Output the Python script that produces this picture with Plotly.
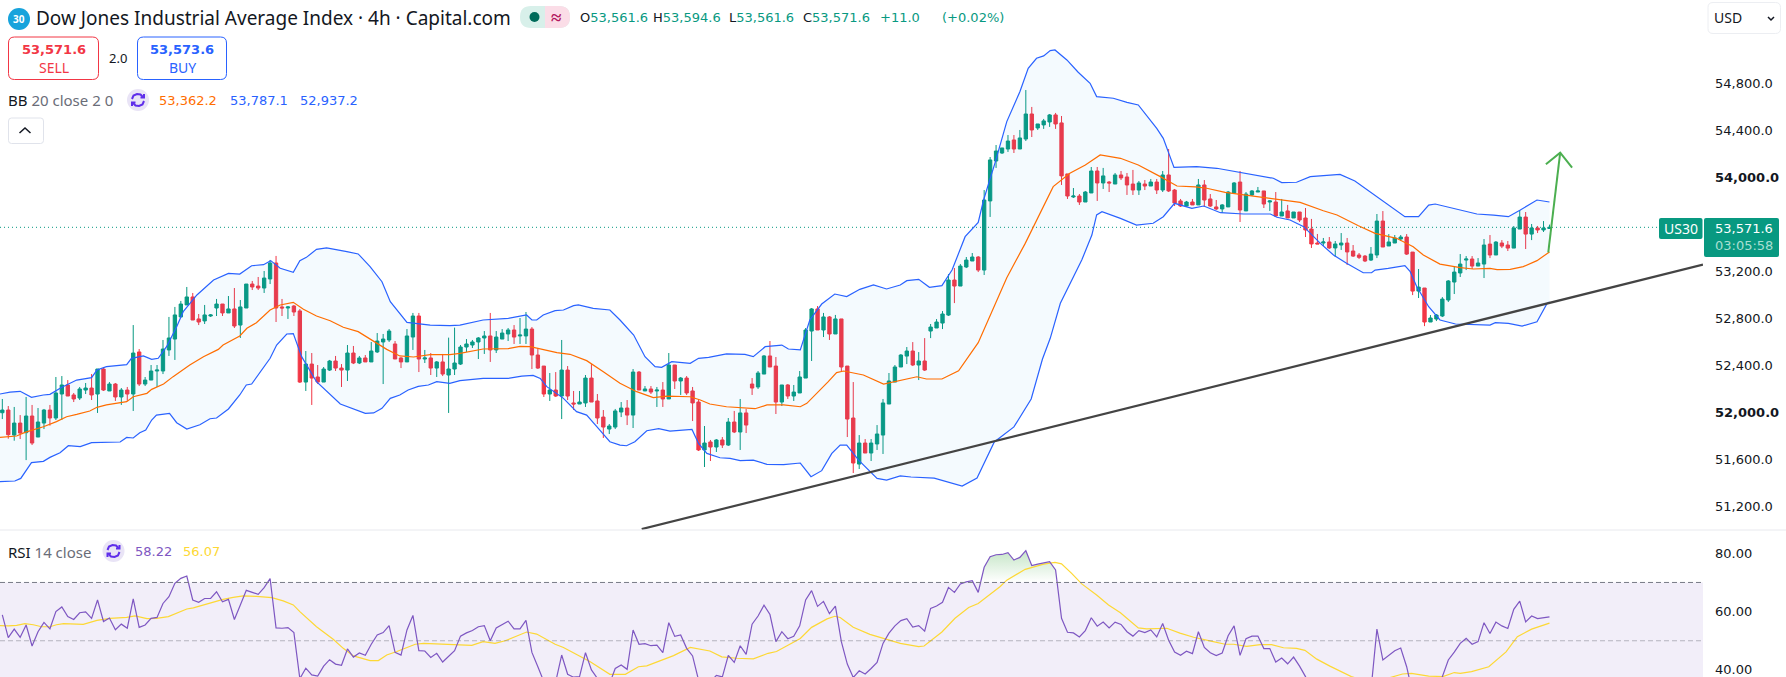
"""Dow Jones 4h chart with Bollinger Bands and RSI pane, rebuilt from a screenshot."""

import plotly.graph_objects as go

opens = [
    51994, 52017, 51804, 51906, 51824, 51966, 51787, 51906, 52017, 51949,
    52153, 52230, 52145, 52119, 52187, 52204, 52153, 52366, 52179, 52238,
    52128, 52187, 52153, 52511, 52238, 52272, 52349, 52349, 52528, 52621,
    52809, 52911, 52979, 52792, 52775, 52817, 52885, 52919, 52843, 52877,
    52740, 52885, 53089, 53072, 53055, 53132, 53268, 52894, 52885, 52902,
    52860, 52255, 52408, 52298, 52255, 52357, 52434, 52374, 52357, 52502,
    52417, 52460, 52426, 52511, 52596, 52613, 52579, 52460, 52426, 52638,
    52817, 52451, 52460, 52374, 52426, 52315, 52366, 52408, 52553, 52570,
    52596, 52630, 52647, 52528, 52621, 52664, 52698, 52647, 52647, 52706,
    52485, 52391, 52153, 52187, 52136, 52357, 52077, 52068, 52077, 52289,
    52094, 51957, 51855, 51872, 52000, 52034, 51974, 52340, 52179, 52196,
    52179, 52187, 52111, 52400, 52264, 52289, 52179, 52085, 51677, 51745,
    51702, 51762, 51719, 51915, 51830, 51992, 52238, 52213, 52323, 52477,
    52391, 52085, 52230, 52136, 52162, 52289, 52689, 52877, 52698, 52809,
    52664, 52792, 52391, 51949, 51557, 51736, 51651, 51728, 51804, 52068,
    52255, 52383, 52476, 52519, 52400, 52434, 52689, 52715, 52757, 52825,
    53123, 53072, 53234, 53285, 53319, 53208, 53796, 54136, 54204, 54238,
    54315, 54238, 54323, 54536, 54417, 54443, 54468, 54528, 54460, 54026,
    53830, 53838, 53787, 53864, 54051, 53949, 53957, 53940, 54017, 54000,
    53940, 53889, 53940, 53923, 53957, 53889, 54017, 53889, 53796, 53753,
    53787, 53762, 53932, 53813, 53745, 53728, 53745, 53864, 53957, 53711,
    53847, 53872, 53881, 53787, 53787, 53668, 53711, 53651, 53702, 53651,
    53557, 53438, 53438, 53447, 53396, 53421, 53438, 53370, 53336, 53327,
    53293, 53336, 53625, 53413, 53438, 53472, 53489, 53361, 53029, 53055,
    52766, 52791, 52817, 52953, 53106, 53183, 53293, 53302, 53242, 53259,
    53429, 53336, 53438, 53421, 53395, 53557, 53659, 53514, 53566, 53549,
    53561.6,
]
highs = [
    52111, 52051, 52043, 51974, 52128, 52060, 52034, 52026, 52060, 52298,
    52306, 52272, 52162, 52213, 52247, 52323, 52366, 52383, 52255, 52247,
    52204, 52213, 52740, 52536, 52298, 52400, 52400, 52613, 52809, 52894,
    52945, 53064, 53013, 52834, 52911, 52834, 52962, 52919, 52987, 53055,
    52953, 53089, 53115, 53149, 53200, 53294, 53328, 52962, 52902, 52911,
    52877, 52519, 52502, 52400, 52383, 52443, 52477, 52408, 52570, 52562,
    52477, 52485, 52596, 52672, 52664, 52706, 52604, 52468, 52706, 52843,
    52843, 52528, 52502, 52434, 52494, 52633, 52718, 52570, 52621, 52613,
    52638, 52689, 52843, 52689, 52706, 52715, 52740, 52800, 52851, 52723,
    52542, 52391, 52332, 52340, 52613, 52391, 52179, 52179, 52315, 52408,
    52153, 52017, 51898, 52026, 52085, 52102, 52366, 52349, 52221, 52221,
    52213, 52255, 52502, 52400, 52298, 52306, 52213, 52111, 51881, 51762,
    51770, 51787, 51949, 52009, 52111, 52026, 52289, 52349, 52485, 52604,
    52468, 52230, 52238, 52230, 52349, 52715, 52885, 52902, 52843, 52817,
    52826, 52792, 52391, 52255, 51804, 51770, 51770, 51889, 52111, 52332,
    52400, 52493, 52553, 52595, 52510, 52629, 52749, 52791, 52859, 53174,
    53225, 53259, 53319, 53353, 53327, 53889, 54170, 54272, 54247, 54357,
    54357, 54400, 54740, 54596, 54451, 54494, 54536, 54545, 54519, 54026,
    53906, 53855, 53881, 54085, 54085, 54077, 53966, 54034, 54051, 54034,
    54060, 53966, 53974, 53983, 53983, 54051, 54238, 53898, 53813, 53796,
    53813, 53983, 53974, 53855, 53804, 53770, 53881, 53957, 54051, 53872,
    53889, 53915, 53881, 53804, 53872, 53813, 53762, 53702, 53702, 53736,
    53643, 53515, 53481, 53489, 53455, 53523, 53481, 53421, 53353, 53336,
    53404, 53685, 53710, 53514, 53506, 53506, 53514, 53361, 53217, 53055,
    52825, 52834, 52978, 53123, 53236, 53344, 53327, 53327, 53310, 53472,
    53506, 53455, 53463, 53455, 53583, 53719, 53702, 53600, 53583, 53625,
    53594.6,
]
lows = [
    51940, 51773, 51756, 51770, 51591, 51719, 51787, 51855, 51884, 51932,
    51932, 52136, 52085, 52102, 52153, 52102, 51992, 52179, 52179, 52094,
    52060, 52094, 52009, 52221, 52221, 52272, 52213, 52323, 52477, 52443,
    52809, 52911, 52783, 52740, 52749, 52809, 52817, 52817, 52843, 52715,
    52630, 52885, 53038, 53038, 53013, 53089, 52766, 52817, 52792, 52817,
    52247, 52179, 52060, 52238, 52255, 52349, 52349, 52213, 52264, 52408,
    52408, 52426, 52426, 52502, 52238, 52596, 52451, 52374, 52426, 52528,
    52340, 52417, 52315, 52298, 52306, 51992, 52315, 52400, 52511, 52545,
    52451, 52494, 52426, 52502, 52621, 52604, 52579, 52579, 52579, 52366,
    52366, 52128, 52094, 52128, 51940, 52102, 52017, 52068, 52043, 52085,
    51898, 51779, 51813, 51855, 51957, 51889, 51864, 52187, 52179, 52153,
    52043, 52043, 52111, 52196, 52145, 52145, 51923, 51668, 51532, 51583,
    51660, 51694, 51711, 51821, 51677, 51821, 52145, 52196, 52323, 52383,
    51983, 52051, 52111, 52094, 52162, 52289, 52434, 52698, 52638, 52613,
    52664, 52349, 51787, 51481, 51515, 51651, 51583, 51677, 51643, 52068,
    52255, 52383, 52408, 52391, 52272, 52349, 52629, 52715, 52706, 52817,
    52927, 53072, 53225, 53285, 53191, 53166, 53660, 54077, 54196, 54213,
    54204, 54238, 54306, 54340, 54400, 54409, 54426, 54409, 53932, 53813,
    53821, 53762, 53787, 53864, 53796, 53898, 53872, 53940, 53974, 53847,
    53847, 53847, 53889, 53923, 53855, 53872, 53872, 53753, 53745, 53745,
    53762, 53762, 53745, 53745, 53719, 53694, 53745, 53864, 53617, 53711,
    53838, 53872, 53736, 53711, 53668, 53668, 53651, 53651, 53617, 53489,
    53396, 53430, 53413, 53387, 53319, 53379, 53251, 53319, 53302, 53276,
    53285, 53310, 53404, 53413, 53438, 53455, 53336, 52995, 52970, 52731,
    52766, 52774, 52808, 52936, 53004, 53149, 53208, 53217, 53242, 53140,
    53310, 53336, 53395, 53370, 53395, 53557, 53387, 53463, 53523, 53532,
    53561.6,
]
closes = [
    52017, 51807, 51906, 51821, 51966, 51736, 51915, 52017, 51949, 52162,
    52230, 52136, 52111, 52196, 52204, 52145, 52366, 52187, 52238, 52128,
    52187, 52153, 52502, 52238, 52272, 52349, 52357, 52536, 52630, 52826,
    52919, 52979, 52783, 52766, 52826, 52826, 52919, 52843, 52877, 52732,
    52894, 53089, 53064, 53055, 53140, 53268, 52885, 52885, 52894, 52851,
    52255, 52408, 52289, 52255, 52366, 52434, 52374, 52357, 52502, 52417,
    52460, 52426, 52519, 52604, 52621, 52689, 52451, 52426, 52647, 52817,
    52451, 52460, 52374, 52426, 52323, 52366, 52417, 52553, 52579, 52596,
    52630, 52647, 52528, 52638, 52672, 52698, 52638, 52655, 52706, 52485,
    52374, 52153, 52187, 52136, 52357, 52136, 52068, 52085, 52289, 52085,
    51949, 51872, 51881, 52009, 52034, 51974, 52340, 52187, 52196, 52170,
    52187, 52111, 52400, 52264, 52289, 52162, 52077, 51677, 51736, 51702,
    51762, 51719, 51915, 51830, 51992, 51889, 52204, 52332, 52477, 52383,
    52085, 52230, 52136, 52170, 52298, 52698, 52877, 52698, 52809, 52664,
    52792, 52383, 51940, 51566, 51736, 51651, 51736, 51813, 52077, 52264,
    52383, 52485, 52519, 52400, 52434, 52357, 52723, 52766, 52834, 53123,
    53072, 53242, 53293, 53319, 53208, 53804, 54145, 54221, 54247, 54306,
    54238, 54332, 54536, 54400, 54451, 54477, 54528, 54451, 54009, 53838,
    53838, 53787, 53872, 54051, 53949, 54009, 53949, 54017, 53992, 53932,
    53889, 53949, 53923, 53957, 53889, 54017, 53881, 53779, 53753, 53787,
    53762, 53932, 53804, 53753, 53728, 53762, 53872, 53949, 53719, 53855,
    53881, 53881, 53770, 53796, 53668, 53702, 53651, 53702, 53634, 53549,
    53430, 53430, 53447, 53396, 53430, 53438, 53362, 53327, 53316, 53285,
    53344, 53625, 53404, 53447, 53480, 53489, 53344, 53029, 53063, 52766,
    52800, 52825, 52961, 53115, 53191, 53259, 53302, 53242, 53268, 53421,
    53336, 53446, 53412, 53395, 53566, 53659, 53514, 53566, 53549, 53566,
    53571.6,
]

# Bollinger bands: vertices as (bar number, price)
upper_bars = [
    -0.4, 1.3, 3.0, 4.9, 6.9, 8.0, 10.0, 12.5, 15.0, 15.9, 17.5, 20.9, 21.7, 23.7, 25.1, 26.2,
    27.6, 29.3, 30.4, 32.7, 35.5, 38.0, 39.9, 41.9, 43.9, 45.1, 46.7, 48.9, 50.0, 51.1, 52.8,
    54.5, 57.9, 59.8, 61.8, 63.8, 65.2, 68.0, 71.9, 75.2, 76.9, 80.8, 85.0, 88.1, 89.0, 89.8,
    90.9, 92.9, 94.3, 96.0, 96.8, 99.3, 102.1, 103.8, 106.1, 108.0, 109.7, 110.8, 112.5, 115.6,
    117.0, 118.7, 121.7, 124.8, 126.2, 128.2, 131.0, 132.1, 134.1, 135.7, 137.7, 139.9, 141.9,
    144.1, 146.4, 148.6, 150.9, 152.0, 154.0, 155.8, 157.9, 159.6, 161.8, 164.0, 164.9, 166.8,
    168.8, 171.0, 172.4, 173.8, 175.0, 176.1, 176.9, 178.9, 180.8, 182.8, 183.9, 186.7, 189.0,
    190.9, 194.0, 195.1, 196.9, 200.7, 204.1, 213.6, 215.0, 217.5, 219.8, 224.8, 227.3, 231.0,
    235.7, 238.0, 239.7, 240.8, 245.0, 247.8, 250.6, 253.1, 255.1, 257.9, 260.0,
]
upper_band = [
    52153, 52170, 52176, 52125, 52145, 52150, 52210, 52272, 52292, 52357, 52386, 52403, 52457,
    52477, 52448, 52457, 52556, 52726, 52854, 52996, 53123, 53180, 53174, 53245, 53254, 53288,
    53223, 53189, 53288, 53316, 53384, 53396, 53365, 53345, 53237, 53109, 52939, 52763, 52740,
    52735, 52740, 52783, 52797, 52826, 52783, 52783, 52826, 52862, 52868, 52905, 52911, 52882,
    52868, 52783, 52655, 52471, 52386, 52380, 52428, 52414, 52457, 52465, 52494, 52491, 52471,
    52556, 52570, 52536, 52528, 52783, 52919, 53004, 52982, 53044, 53081, 53047, 53081, 53118,
    53129, 53061, 53075, 53208, 53492, 53614, 53804, 54116, 54471, 54726, 54925, 55010, 55030,
    55075, 55081, 54996, 54891, 54797, 54684, 54670, 54635, 54613, 54414, 54329, 54082, 54088,
    54074, 53989, 53952, 53955, 54003, 54022, 53966, 53832, 53662, 53662, 53761, 53770, 53719,
    53685, 53676, 53662, 53719, 53804, 53787.1,
]
mid_bars = [
    -0.4, 2.4, 3.8, 5.2, 6.9, 9.1, 10.8, 12.5, 14.7, 15.9, 17.5, 20.9, 22.0, 24.3, 25.1, 27.1,
    28.7, 31.5, 33.8, 36.3, 37.1, 39.9, 41.1, 42.7, 45.0, 46.7, 48.9, 50.6, 52.8, 55.1, 57.3,
    59.8, 62.4, 64.6, 66.8, 69.1, 71.9, 75.2, 76.9, 80.8, 85.0, 87.0, 88.7, 90.9, 93.2, 95.4,
    98.2, 101.0, 103.8, 106.6, 109.4, 111.7, 115.6, 117.3, 118.9, 121.7, 124.0, 126.5, 128.5,
    131.3, 134.1, 135.2, 138.8, 140.2, 141.4, 144.7, 148.1, 150.9, 151.4, 153.7, 155.3, 157.9,
    160.7, 164.0, 168.8, 171.9, 176.6, 179.4, 182.0, 184.5, 187.9, 190.9, 194.6, 197.4, 200.5,
    202.4, 205.5, 210.3, 214.7, 218.1, 222.0, 224.3, 227.9, 230.7, 234.3, 237.1, 238.8, 241.6,
    245.0, 247.2, 250.0, 251.2, 253.4, 255.6, 257.9, 260.0,
]
mid_band = [
    51784, 51796, 51827, 51847, 51875, 51918, 51960, 51980, 52009, 52040, 52060, 52088, 52130,
    52159, 52193, 52238, 52301, 52400, 52471, 52533, 52570, 52647, 52712, 52760, 52868, 52911,
    52933, 52874, 52817, 52777, 52721, 52684, 52599, 52533, 52477, 52468, 52488, 52488, 52499,
    52536, 52539, 52559, 52556, 52533, 52505, 52491, 52437, 52343, 52244, 52173, 52122, 52136,
    52130, 52102, 52068, 52045, 52034, 52028, 52060, 52060, 52045, 52074, 52258, 52335, 52349,
    52315, 52238, 52267, 52278, 52300, 52281, 52281, 52351, 52590, 53143, 53435, 53918, 54031,
    54102, 54187, 54159, 54102, 54003, 53923, 53915, 53904, 53869, 53838, 53804, 53784, 53713,
    53677, 53585, 53520, 53478, 53407, 53336, 53259, 53228, 53217, 53222, 53211, 53214, 53237,
    53288, 53362.2,
]
lower_bars = [
    -0.4, 2.1, 3.1, 4.4, 4.9, 6.9, 8.0, 9.7, 11.1, 13.1, 15.0, 19.8, 20.9, 22.0, 23.1, 24.1,
    25.1, 25.9, 28.1, 29.3, 31.0, 33.2, 34.9, 36.0, 38.0, 39.9, 41.0, 41.9, 45.0, 46.1, 47.8,
    48.9, 50.3, 52.8, 56.8, 61.0, 62.4, 63.8, 65.2, 66.8, 68.2, 69.9, 71.6, 73.0, 75.2, 76.9,
    80.8, 85.0, 87.3, 89.2, 90.4, 91.5, 94.3, 96.5, 98.2, 99.9, 102.1, 103.8, 104.9, 106.3,
    108.3, 110.3, 112.2, 115.9, 117.0, 118.4, 120.6, 122.3, 124.0, 126.2, 128.5, 131.3, 134.1,
    135.9, 137.7, 139.4, 140.8, 141.9, 143.9, 147.0, 148.6, 150.9, 152.7, 156.6, 159.4, 161.3,
    163.8, 166.7, 170.0, 172.9, 174.8, 176.1, 177.8, 181.4, 183.1, 183.9, 184.8, 187.9, 190.6,
    193.4, 195.1, 197.0, 199.9, 201.9, 204.7, 208.6, 213.1, 214.2, 216.4, 218.7, 221.5, 223.7,
    225.9, 228.7, 230.1, 230.7, 232.9, 235.7, 236.6, 237.7, 239.7, 241.6, 244.2, 250.0, 250.9,
    253.1, 255.4, 257.9, 259.6, 260.0,
]
lower_band = [
    51407, 51413, 51435, 51540, 51569, 51580, 51614, 51654, 51713, 51705, 51739, 51745, 51784,
    51779, 51824, 51847, 51932, 51974, 51989, 51909, 51855, 51892, 51943, 51949, 52026, 52145,
    52230, 52238, 52457, 52570, 52664, 52667, 52471, 52258, 52068, 51989, 51992, 52031, 52116,
    52145, 52187, 52218, 52230, 52258, 52244, 52267, 52286, 52286, 52306, 52312, 52286, 52216,
    52116, 52003, 51974, 51875, 51747, 51719, 51713, 51747, 51841, 51858, 51838, 51852, 51733,
    51648, 51611, 51606, 51586, 51591, 51555, 51552, 51566, 51450, 51501, 51648, 51719, 51719,
    51591, 51435, 51421, 51456, 51447, 51438, 51396, 51370, 51438, 51745, 51873, 52111, 52451,
    52627, 52925, 53293, 53506, 53677, 53705, 53648, 53591, 53606, 53662, 53776, 53733, 53753,
    53696, 53685, 53685, 53657, 53634, 53577, 53435, 53336, 53265, 53185, 53185, 53208, 53222,
    53245, 53194, 53066, 52896, 52783, 52749, 52740, 52760, 52754, 52731, 52768, 52924, 52937.2,
]

# RSI per bar; values under the pane's lower edge are hidden in the source and guessed
rsi_values = [
    58.9, 51.1, 54.0, 51.2, 55.4, 48.2, 53.1, 56.3, 54.1, 60.0,
    61.6, 58.3, 57.3, 59.6, 59.9, 57.7, 64.0, 56.6, 57.8, 53.8,
    55.7, 54.3, 64.4, 54.6, 55.4, 57.7, 58.0, 62.8, 65.1, 69.7,
    71.4, 72.2, 64.0, 63.2, 64.5, 64.5, 66.8, 63.4, 64.2, 57.3,
    62.3, 67.3, 66.6, 65.9, 68.2, 71.3, 54.4, 54.3, 54.5, 52.8,
    37.0, 40.6, 38.3, 37.9, 41.3, 43.5, 42.0, 41.6, 47.2, 44.4,
    45.8, 45.0, 48.8, 52.0, 52.8, 55.2, 46.0, 45.1, 53.7, 58.7,
    46.6, 46.5, 44.3, 45.7, 42.7, 44.8, 46.6, 51.6, 52.7, 53.5,
    54.8, 55.2, 50.0, 54.4, 55.7, 56.7, 54.1, 54.1, 57.0, 46.0,
    41.1, 36.0, 36.5, 36.0, 45.1, 38.5, 37.5, 37.7, 45.9, 40.0,
    37.1, 35.5, 35.0, 40.5, 41.7, 40.2, 53.7, 48.8, 49.0, 48.3,
    48.5, 45.9, 56.2, 51.5, 52.0, 47.4, 44.8, 36.5, 35.4, 36.0,
    38.1, 37.6, 45.0, 42.6, 48.3, 45.3, 55.7, 58.5, 62.2, 59.0,
    49.7, 53.1, 50.7, 51.5, 55.1, 64.0, 67.2, 61.8, 63.5, 59.3,
    61.9, 49.7, 42.0, 37.4, 39.7, 38.6, 40.5, 42.6, 49.1, 52.6,
    55.1, 56.9, 57.6, 54.7, 55.2, 53.3, 61.1, 61.9, 63.2, 68.3,
    66.6, 69.5, 70.2, 70.6, 66.6, 75.2, 78.8, 79.5, 79.6, 80.2,
    77.7, 78.6, 80.9, 75.8, 76.3, 76.6, 77.1, 74.3, 57.7, 52.9,
    52.7, 51.3, 53.5, 57.9, 55.0, 56.4, 54.4, 56.4, 55.6, 53.1,
    51.6, 53.5, 52.8, 53.7, 51.3, 55.9, 50.2, 46.1, 45.0, 46.4,
    45.6, 53.1, 47.7, 45.9, 44.9, 45.8, 51.7, 55.1, 45.0, 50.7,
    51.6, 51.6, 47.3, 47.3, 42.7, 44.1, 42.1, 44.4, 41.3, 37.7,
    33.0, 33.5, 34.5, 33.5, 34.5, 35.0, 33.5, 33.0, 32.5, 32.0,
    33.0, 54.0, 43.4, 44.9, 46.6, 47.5, 41.1, 32.0, 33.5, 29.0,
    30.0, 32.0, 37.7, 43.4, 46.1, 49.1, 50.8, 48.8, 49.7, 56.2,
    52.5, 56.4, 55.1, 54.2, 60.8, 63.6, 56.5, 58.5, 57.6, 57.9,
    58.22,
]
rsi_ma_bars = [
    -0.4, 1.0, 2.4, 3.8, 5.2, 6.6, 8.0, 9.1, 10.3, 13.6, 15.9, 18.1, 20.9, 22.3, 24.3, 25.9,
    27.9, 29.3, 31.0, 32.1, 35.5, 37.1, 38.8, 40.5, 42.7, 45.3, 47.2, 48.9, 50.0, 52.8, 55.6,
    57.3, 59.0, 61.8, 63.2, 64.6, 66.3, 67.7, 69.4, 70.8, 75.2, 78.9, 80.8, 82.8, 84.5, 86.2,
    88.1, 89.8, 92.9, 94.3, 97.1, 98.8, 102.1, 104.7, 106.9, 108.3, 112.8, 115.6, 118.9, 120.9,
    123.4, 126.2, 128.7, 130.1, 134.1, 136.0, 138.6, 139.9, 140.8, 143.0, 145.8, 148.1, 150.9,
    154.0, 154.9, 157.9, 160.1, 162.4, 164.0, 167.7, 168.8, 171.9, 175.0, 176.9, 178.0, 179.7,
    181.4, 183.9, 185.9, 187.9, 190.9, 192.3, 195.7, 197.9, 200.2, 203.5, 205.5, 206.9, 209.1,
    211.4, 213.3, 215.3, 217.5, 218.9, 220.9, 223.1, 226.7, 230.2, 233.9, 235.3, 236.8, 239.7,
    242.1, 244.0, 245.0, 246.9, 249.8, 252.7, 254.6, 257.0, 260.0,
]
rsi_ma = [
    55.2, 55.1, 55.3, 55.9, 55.5, 54.8, 54.8, 55.5, 55.9, 55.6, 57.0, 57.7, 58.0, 58.5, 57.6, 57.7,
    58.3, 59.4, 60.9, 61.3, 63.4, 64.2, 64.9, 65.4, 65.2, 64.8, 63.7, 62.3, 60.0, 54.8, 50.5,
    47.4, 44.8, 43.2, 43.2, 45.1, 46.3, 47.4, 48.8, 49.1, 48.8, 48.4, 49.7, 49.1, 50.0, 51.4,
    53.0, 52.3, 48.8, 47.7, 44.5, 42.8, 38.5, 38.5, 41.1, 41.4, 44.9, 47.7, 46.5, 44.5,
    44.0, 43.8, 45.7, 46.3, 50.8, 54.6, 57.5, 58.4, 58.0, 54.6, 52.2, 50.9, 49.1,
    48.0, 48.2, 53.0, 57.7, 61.4, 62.8, 68.6, 70.8, 74.5, 76.3, 76.9, 76.4, 73.1,
    69.5, 65.7, 62.3, 59.6, 54.4, 54.1, 54.3, 52.6, 51.2, 49.7, 48.8, 48.8, 48.1,
    48.7, 48.7, 47.6, 47.4, 46.7, 43.7, 41.3, 37.7, 35.6, 37.7, 38.6, 38.8, 37.9,
    37.7, 39.1, 38.8, 39.4, 41.1, 46.2, 51.4, 54.0, 56.07,
]

# 53,600 sits behind the last-price tag in the source, so it is left out
price_ticks = [51200, 51600, 52000, 52400, 52800, 53200, 54000, 54400, 54800]
bold_ticks = [52000, 54000]
rsi_ticks = [40, 60, 80]
last_price = 53571.6
rsi_upper, rsi_lower, rsi_middle = 70, 30, 50

# the two user drawings on the chart
trend_bars = [107.45, 285.8]
trend_prices = [51004, 53254]
arrow_bars = [259.8, 261.8, None, 259.4, 261.8, 263.8]
arrow_prices = [53359, 54207, None, 54108, 54207, 54079]

W, H = 1786, 677
AXIS_X = 1703
PANE_Y = 530
FONT = "Noto Sans"
NUM_FONT = "DejaVu Sans"
GREEN = "#089981"
RED = "#F23645"
BLUE = "#2962FF"
ORANGE = "#FF6D00"
PURPLE = "#7E57C2"
YELLOW = "#FDD835"
INK = "#131722"
GREY = "#6a6d78"


def fx(x):
    return x / W


def fy(y):
    return 1 - y / H


def label(x, y, text, size=14, color=INK, anchor="left", family=FONT):
    return dict(
        xref="paper", yref="paper", x=fx(x), y=fy(y), text=text, showarrow=False,
        xanchor=anchor, yanchor="middle", font=dict(family=family, size=size, color=color),
        borderpad=0, borderwidth=0,
    )


def number(x, y, text, color=INK, anchor="left", size=13):
    return label(x, y, text, size=size, color=color, anchor=anchor, family=NUM_FONT)


def rounded(x0, y0, x1, y1, r, fill="rgba(0,0,0,0)", line=None, width=1):
    path = (
        f"M {fx(x0 + r)} {fy(y0)} L {fx(x1 - r)} {fy(y0)} Q {fx(x1)} {fy(y0)} {fx(x1)} {fy(y0 + r)} "
        f"L {fx(x1)} {fy(y1 - r)} Q {fx(x1)} {fy(y1)} {fx(x1 - r)} {fy(y1)} "
        f"L {fx(x0 + r)} {fy(y1)} Q {fx(x0)} {fy(y1)} {fx(x0)} {fy(y1 - r)} "
        f"L {fx(x0)} {fy(y0 + r)} Q {fx(x0)} {fy(y0)} {fx(x0 + r)} {fy(y0)} Z"
    )
    return dict(
        type="path", xref="paper", yref="paper", path=path, fillcolor=fill,
        line=dict(color=line or "rgba(0,0,0,0)", width=width if line else 0),
    )


def disc(cx, cy, r, fill):
    return dict(
        type="circle", xref="paper", yref="paper", x0=fx(cx - r), x1=fx(cx + r),
        y0=fy(cy + r), y1=fy(cy - r), fillcolor=fill, line=dict(width=0),
    )


def polyline(points, color, width=1.5):
    path = "M " + " L ".join(f"{fx(x)} {fy(y)}" for x, y in points)
    return dict(
        type="path", xref="paper", yref="paper", path=path,
        line=dict(color=color, width=width), fillcolor="rgba(0,0,0,0)",
    )


def cycle_icon(cx, cy):
    # pale disc with the two little rotating arrows of the legend
    ink = "#5f2eea"
    top = [(cx - 6, cy - 1), (cx - 4.5, cy - 4.5), (cx - 1, cy - 6), (cx + 2.5, cy - 5.5), (cx + 5, cy - 3)]
    bottom = [(cx + 6, cy + 1), (cx + 4.5, cy + 4.5), (cx + 1, cy + 6), (cx - 2.5, cy + 5.5), (cx - 5, cy + 3)]
    return [
        disc(cx, cy, 11, "#e9e4f6"),
        polyline(top, ink, 2),
        polyline(bottom, ink, 2),
        polyline([(cx + 2.5, cy - 2.5), (cx + 6, cy - 2.5), (cx + 6, cy - 6)], ink, 2),
        polyline([(cx - 2.5, cy + 2.5), (cx - 6, cy + 2.5), (cx - 6, cy + 6)], ink, 2),
    ]


def overbought_patch(values, level):
    # closed polygons where the RSI runs above the upper band
    xs, ys = [], []
    for i in range(1, len(values)):
        a, b = values[i - 1], values[i]
        if a <= level < b:
            xs += [i - 1 + (level - a) / (b - a), i]
            ys += [level, b]
        elif a > level >= b:
            xs += [i - 1 + (a - level) / (a - b), None]
            ys += [level, None]
        elif a > level and b > level:
            xs.append(i)
            ys.append(b)
    return xs, ys


bars = list(range(len(closes)))
bar_range = [-0.39, 285.8]
fig = go.Figure()

# band fill first so that everything else sits on top of it
fig.add_trace(go.Scatter(
    x=upper_bars + lower_bars[::-1], y=upper_band + lower_band[::-1],
    mode="lines", line=dict(width=0), fill="toself", fillcolor="rgba(33,150,243,0.05)",
    hoverinfo="skip",
))
fig.add_trace(go.Scatter(
    x=bar_range, y=[last_price, last_price], mode="lines",
    line=dict(color=GREEN, width=1, dash="1px,3px"), hoverinfo="skip",
))
fig.add_trace(go.Scatter(x=upper_bars, y=upper_band, mode="lines", line=dict(color=BLUE, width=1.2), hoverinfo="skip"))
fig.add_trace(go.Scatter(x=lower_bars, y=lower_band, mode="lines", line=dict(color=BLUE, width=1.2), hoverinfo="skip"))
fig.add_trace(go.Scatter(x=mid_bars, y=mid_band, mode="lines", line=dict(color=ORANGE, width=1.2), hoverinfo="skip"))
fig.add_trace(go.Candlestick(
    x=bars, open=opens, high=highs, low=lows, close=closes, whiskerwidth=0,
    increasing=dict(line=dict(color=GREEN, width=1), fillcolor=GREEN),
    decreasing=dict(line=dict(color=RED, width=1), fillcolor=RED),
    hoverinfo="skip",
))
fig.add_trace(go.Scatter(x=trend_bars, y=trend_prices, mode="lines", line=dict(color="#444444", width=2.2), hoverinfo="skip"))
fig.add_trace(go.Scatter(x=arrow_bars, y=arrow_prices, mode="lines", line=dict(color="#4CAF50", width=2), hoverinfo="skip"))

# RSI pane
patch_x, patch_y = overbought_patch(rsi_values, rsi_upper)
fig.add_trace(go.Scatter(
    x=patch_x, y=patch_y, xaxis="x2", yaxis="y2", mode="lines", line=dict(width=0),
    fill="toself", hoverinfo="skip",
    fillgradient=dict(type="vertical", colorscale=[[0, "rgba(76,175,80,0)"], [1, "rgba(76,175,80,0.32)"]]),
))
fig.add_trace(go.Scatter(
    x=rsi_ma_bars, y=rsi_ma, xaxis="x2", yaxis="y2", mode="lines",
    line=dict(color=YELLOW, width=1.2), hoverinfo="skip",
))
fig.add_trace(go.Scatter(
    x=bars, y=rsi_values, xaxis="x2", yaxis="y2", mode="lines",
    line=dict(color=PURPLE, width=1.2), hoverinfo="skip",
))

shapes = [
    dict(type="rect", xref="x2 domain", yref="y2", x0=0, x1=1, y0=rsi_lower, y1=rsi_upper,
         fillcolor="rgba(126,87,194,0.1)", line=dict(width=0), layer="below"),
    dict(type="line", xref="x2 domain", yref="y2", x0=0, x1=1, y0=rsi_upper, y1=rsi_upper,
         line=dict(color="#787B86", width=1, dash="5px,3px")),
    dict(type="line", xref="x2 domain", yref="y2", x0=0, x1=1, y0=rsi_middle, y1=rsi_middle,
         line=dict(color="rgba(120,123,134,0.5)", width=1, dash="5px,3px")),
    dict(type="line", xref="paper", yref="paper", x0=0, x1=1, y0=fy(PANE_Y), y1=fy(PANE_Y),
         line=dict(color="#e8e9ee", width=1)),
    disc(19, 19, 11, "#17a3dc"),
    # status pill: green on the left, pink on the right
    rounded(520, 6, 570, 28, 11, fill="#d8f0ea"),
    rounded(530, 6, 570, 28, 11, fill="#fbdde7"),
    rounded(530, 6, 545, 28, 0, fill="#d8f0ea"),
    disc(534.5, 17, 5, "#006b5a"),
    rounded(8.5, 37, 98.5, 79.5, 6, line=RED),
    rounded(137.5, 37, 226.5, 79.5, 6, line=BLUE),
    rounded(8.5, 118, 43.5, 143.5, 3, line="#e0e3eb"),
    polyline([(19.5, 133), (25, 128), (30.5, 133)], INK, 1.5),
    rounded(1708, 2.5, 1780.5, 33.5, 5, line="#eceef2"),
    polyline([(1768, 17), (1771, 20), (1774, 17)], INK, 1.5),
    rounded(1659, 218, 1702.5, 239, 2, fill=GREEN),
    rounded(1704, 218, 1779, 257, 2, fill=GREEN),
]
shapes += cycle_icon(138, 100)
shapes += cycle_icon(113.5, 551)

ohlc_value = f'<span style="color:{GREEN}">%s</span>'

annotations = [
    label(19, 19, "<b>30</b>", size=10, color="white", anchor="center"),
    label(36, 18, "Dow Jones Industrial Average Index · 4h · Capital.com", size=19),
    label(556, 16.5, "<b>≈</b>", size=19, color="#b2185f", anchor="center"),
    number(580, 18, "O" + ohlc_value % "53,561.6"),
    number(653, 18, "H" + ohlc_value % "53,594.6"),
    number(729, 18, "L" + ohlc_value % "53,561.6"),
    number(803, 18, "C" + ohlc_value % "53,571.6"),
    number(880, 18, "+11.0", color=GREEN),
    number(942, 18, "(+0.02%)", color=GREEN),
    number(53.5, 49.5, "<b>53,571.6</b>", color=RED, anchor="center"),
    label(53.5, 67, "SELL", size=14, color=RED, anchor="center"),
    label(118, 58, "2.0", size=13, anchor="center"),
    number(182, 49.5, "<b>53,573.6</b>", color=BLUE, anchor="center"),
    label(182, 67, "BUY", size=14, color=BLUE, anchor="center"),
    label(8, 100, f'BB <span style="color:{GREY}">20 close 2 0</span>', size=15),
    number(159, 100, "53,362.2", color=ORANGE),
    number(230, 100, "53,787.1", color=BLUE),
    number(300, 100, "52,937.2", color=BLUE),
    label(1714, 18, "USD", size=14),
    label(1681, 228.5, "US30", size=14, color="white", anchor="center"),
    number(1744, 228, "53,571.6", color="white", anchor="center"),
    number(1744, 245.5, "03:05:58", color="#a8dfd2", anchor="center"),
    label(8, 551.5, f'RSI <span style="color:{GREY}">14 close</span>', size=15),
    number(135, 551.5, "58.22", color=PURPLE),
    number(183, 551.5, "56.07", color=YELLOW),
]

price_text = [f"<b>{v:,.1f}</b>" if v in bold_ticks else f"{v:,.1f}" for v in price_ticks]
rsi_text = [f"{v:.2f}" for v in rsi_ticks]
tick_font = dict(family=NUM_FONT, size=13, color=INK)

fig.update_layout(
    width=W, height=H, margin=dict(l=0, r=0, t=0, b=0), showlegend=False,
    paper_bgcolor="white", plot_bgcolor="white", font=dict(family=FONT, size=14, color=INK),
    boxgap=0.2, shapes=shapes, annotations=annotations,
    xaxis=dict(domain=[0, AXIS_X / W], range=bar_range, anchor="y", visible=False,
               rangeslider=dict(visible=False)),
    xaxis2=dict(domain=[0, AXIS_X / W], range=bar_range, anchor="y2", visible=False),
    yaxis=dict(domain=[fy(PANE_Y), 1], range=[50996, 55506], side="right", anchor="x",
               showgrid=False, zeroline=False, showline=False, ticks="", tickfont=tick_font,
               tickmode="array", tickvals=price_ticks, ticktext=price_text, ticklabelstandoff=11),
    yaxis2=dict(domain=[0, fy(PANE_Y + 1)], range=[37.57, 87.65], side="right", anchor="x2",
                showgrid=False, zeroline=False, showline=False, ticks="", tickfont=tick_font,
                ticklabeloverflow="allow",
                tickmode="array", tickvals=rsi_ticks, ticktext=rsi_text, ticklabelstandoff=11),
)

fig.write_html(
    "out.html", config={"displayModeBar": False},
    post_script="document.body.style.margin='0';document.documentElement.style.overflow='hidden';",
)
